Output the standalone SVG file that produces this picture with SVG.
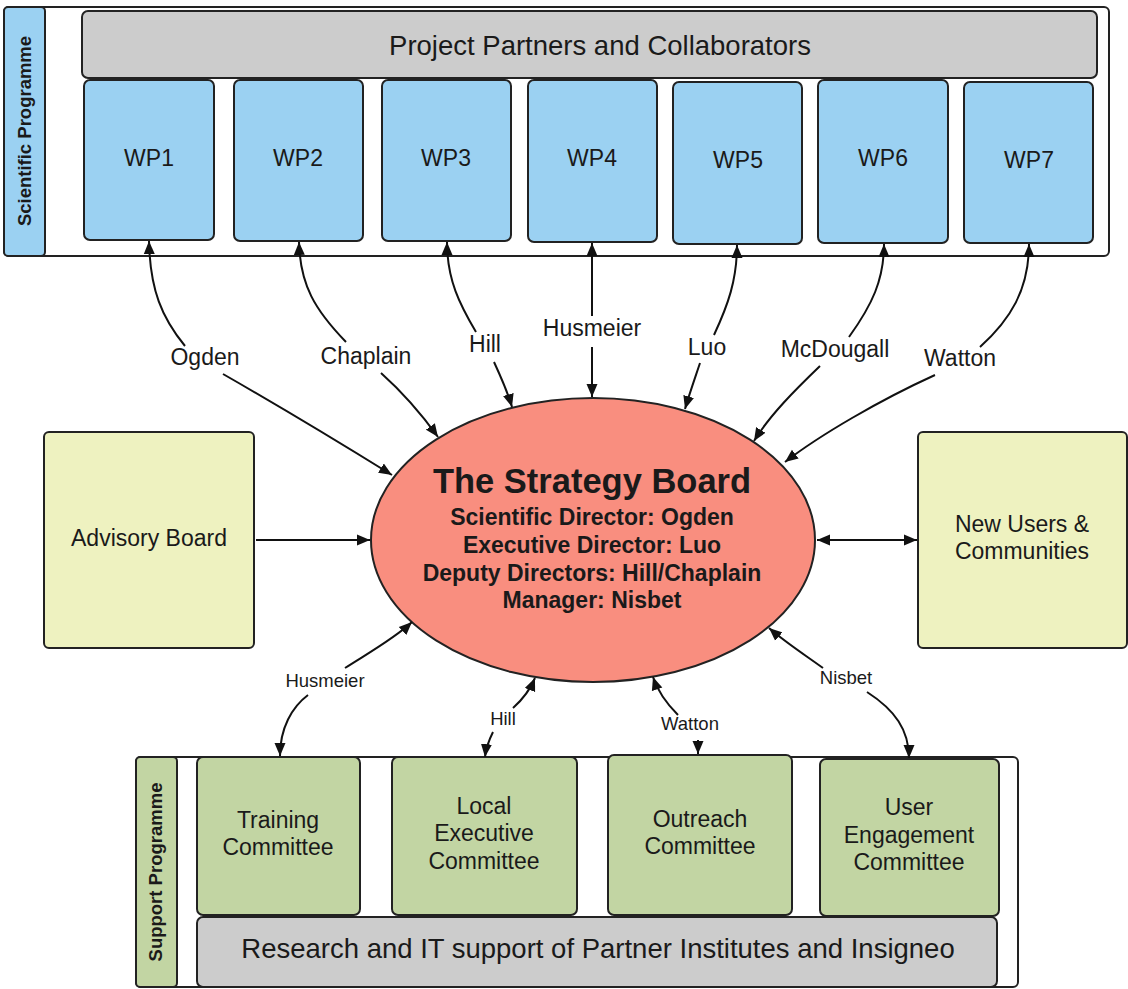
<svg xmlns="http://www.w3.org/2000/svg" width="1128" height="989" viewBox="0 0 1128 989">
<style>
text{font-family:"Liberation Sans",Arial,sans-serif;fill:#1a1a1a}
.box{stroke:#222;stroke-width:2}
.wp{fill:#9bd1f2}
.gray{fill:#cccccc}
.yel{fill:#eef2c0}
.grn{fill:#c2d5a3}
.t22{font-size:23px;text-anchor:middle}
.lab{font-size:23px;text-anchor:middle}
.sl{font-size:18.5px;text-anchor:middle}
.band{font-size:18.5px;font-weight:bold;text-anchor:middle}
.sub{font-size:23px;font-weight:bold;text-anchor:middle}
.c path{fill:none;stroke:#111;stroke-width:2;marker-end:url(#ah)}
</style>
<defs>
<marker id="ah" markerUnits="userSpaceOnUse" markerWidth="14" markerHeight="12" refX="13" refY="5.5" orient="auto" viewBox="0 0 14 11">
<path d="M0,0 L13,5.5 L0,11 z" fill="#111"/>
</marker>
<marker id="ahs" markerUnits="userSpaceOnUse" markerWidth="14" markerHeight="12" refX="13" refY="5.5" orient="auto-start-reverse" viewBox="0 0 14 11">
<path d="M0,0 L13,5.5 L0,11 z" fill="#111"/>
</marker>
</defs>
<rect width="1128" height="989" fill="#ffffff"/>

<g id="scientific-programme">
<rect x="4" y="7" width="1105" height="249" rx="5" fill="#fff" class="box"/>
<rect x="4" y="7" width="41" height="249" rx="4" class="box wp"/>
<text class="band" transform="translate(31,131) rotate(-90)">Scientific Programme</text>
</g>
<g id="partners">
<rect x="82" y="11" width="1015" height="67" rx="6" class="box gray"/>
<text x="600" y="55" style="font-size:27.5px;text-anchor:middle">Project Partners and Collaborators</text>
</g>
<g id="wp1"><rect x="84" y="80" width="130" height="160" rx="6" class="box wp"/><text x="149" y="166" class="t22">WP1</text></g>
<g id="wp2"><rect x="234" y="80" width="129" height="161" rx="6" class="box wp"/><text x="298" y="166" class="t22">WP2</text></g>
<g id="wp3"><rect x="382" y="80" width="129" height="161" rx="6" class="box wp"/><text x="446" y="166" class="t22">WP3</text></g>
<g id="wp4"><rect x="528" y="80" width="129" height="162" rx="6" class="box wp"/><text x="592" y="166" class="t22">WP4</text></g>
<g id="wp5"><rect x="673" y="82" width="129" height="162" rx="6" class="box wp"/><text x="738" y="168" class="t22">WP5</text></g>
<g id="wp6"><rect x="818" y="80" width="130" height="163" rx="6" class="box wp"/><text x="883" y="166" class="t22">WP6</text></g>
<g id="wp7"><rect x="964" y="82" width="129" height="161" rx="6" class="box wp"/><text x="1029" y="168" class="t22">WP7</text></g>

<g id="strategy-board">
<ellipse cx="593" cy="540" rx="222" ry="142" fill="#f98e7f" class="box"/>
<text x="592" y="493" style="font-size:34.5px;font-weight:bold;text-anchor:middle">The Strategy Board</text>
<text x="592" y="525" class="sub">Scientific Director: Ogden</text>
<text x="592" y="553" class="sub">Executive Director: Luo</text>
<text x="592" y="581" class="sub">Deputy Directors: Hill/Chaplain</text>
<text x="592" y="608" class="sub">Manager: Nisbet</text>
</g>

<g id="advisory-board">
<rect x="44" y="432" width="210" height="216" rx="5" class="box yel"/>
<text x="149" y="546" class="t22">Advisory Board</text>
</g>
<g id="new-users">
<rect x="918" y="432" width="209" height="216" rx="5" class="box yel"/>
<text x="1022" y="532" class="t22">New Users &amp;</text>
<text x="1022" y="559" class="t22">Communities</text>
</g>

<g id="support-programme">
<rect x="136" y="757" width="882" height="230" rx="5" fill="#fff" class="box"/>
<rect x="136" y="757" width="41" height="230" rx="4" class="box grn"/>
<text class="band" transform="translate(162,872) rotate(-90)">Support Programme</text>
</g>
<g id="training"><rect x="197" y="757" width="163" height="158" rx="6" class="box grn"/><text x="278" y="828" class="t22">Training</text><text x="278" y="855" class="t22">Committee</text></g>
<g id="local-exec"><rect x="392" y="757" width="185" height="158" rx="6" class="box grn"/><text x="484" y="814" class="t22">Local</text><text x="484" y="841" class="t22">Executive</text><text x="484" y="869" class="t22">Committee</text></g>
<g id="outreach"><rect x="608" y="755" width="184" height="160" rx="6" class="box grn"/><text x="700" y="827" class="t22">Outreach</text><text x="700" y="854" class="t22">Committee</text></g>
<g id="user-engagement"><rect x="820" y="759" width="179" height="157" rx="6" class="box grn"/><text x="909" y="815" class="t22">User</text><text x="909" y="843" class="t22">Engagement</text><text x="909" y="870" class="t22">Committee</text></g>
<g id="research-support">
<rect x="197" y="917" width="800" height="70" rx="6" class="box gray"/>
<text x="598" y="958" style="font-size:27.5px;text-anchor:middle">Research and IT support of Partner Institutes and Insigneo</text>
</g>

<g id="connectors" class="c">
<path d="M185,346 C162,318 150,290 149,241"/>
<path d="M223,374 Q300,418 392,475"/>
<path d="M346,342 C315,310 300,285 299,242"/>
<path d="M381,373 C400,390 420,412 438,437"/>
<path d="M476,332 C460,305 447,280 447,242"/>
<path d="M494,362 C500,375 507,390 512,407"/>
<path d="M592,316 L592,243"/>
<path d="M592,347 L592,397"/>
<path d="M714,335 C728,305 737,280 737,245"/>
<path d="M700,363 C695,378 690,392 685,409"/>
<path d="M849,337 C872,305 884,280 884,244"/>
<path d="M820,366 C795,390 770,415 754,441"/>
<path d="M980,347 C1010,320 1029,290 1029,244"/>
<path d="M935,375 C880,400 820,435 785,462"/>
<path d="M256,540 L370,540"/>
<path d="M817,540 L917,540" style="marker-start:url(#ahs)"/>
<path d="M345,668 C370,652 395,638 412,622"/>
<path d="M308,695 C292,707 280,728 280,756"/>
<path d="M513,708 C522,700 530,690 535,678"/>
<path d="M493,732 C489,740 486,748 485,757"/>
<path d="M678,715 C668,705 658,692 653,677"/>
<path d="M698,740 L698,754"/>
<path d="M823,668 C805,655 785,642 769,628"/>
<path d="M867,692 C895,710 909,730 909,758"/>
</g>

<g id="connector-labels">
<text x="205" y="365" class="lab">Ogden</text>
<text x="366" y="364" class="lab">Chaplain</text>
<text x="485" y="352" class="lab">Hill</text>
<text x="592" y="336" class="lab">Husmeier</text>
<text x="707" y="355" class="lab">Luo</text>
<text x="835" y="357" class="lab">McDougall</text>
<text x="960" y="366" class="lab">Watton</text>
<text x="325" y="687" class="sl">Husmeier</text>
<text x="503" y="725" class="sl">Hill</text>
<text x="690" y="730" class="sl">Watton</text>
<text x="846" y="684" class="sl">Nisbet</text>
</g>
</svg>
